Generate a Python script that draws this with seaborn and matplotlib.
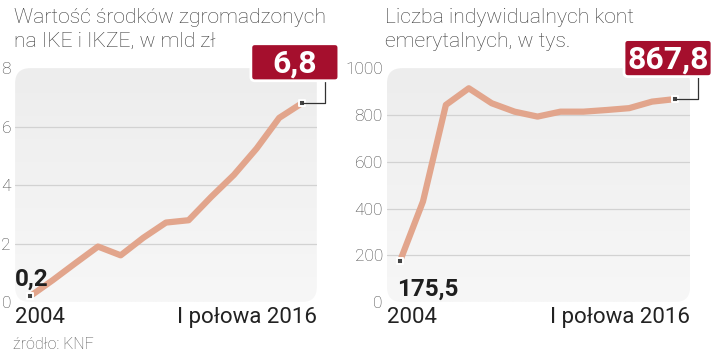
import numpy as np
import pandas as pd
import matplotlib
matplotlib.use("Agg")
import matplotlib.pyplot as plt
import seaborn as sns
from matplotlib.patches import FancyBboxPatch
from matplotlib.lines import Line2D
from matplotlib.transforms import IdentityTransform

# data
okres = list(range(13))  # 2004 ... I polowa 2016
aktywa_mld = [0.2, 0.75, 1.33, 1.9, 1.6, 2.2, 2.72, 2.8, 3.6, 4.35, 5.25, 6.3, 6.8]
konta_tys = [175.5, 430, 843, 914, 850, 814, 793, 814, 814, 821, 829, 857, 867.8]
tytul_lewy = ["Wartość środków zgromadzonych", "na IKE i IKZE, w mld zł"]
tytul_prawy = ["Liczba indywidualnych kont", "emerytalnych, w tys."]
etykieta_start = "2004"
etykieta_koniec = "I połowa 2016"
zrodlo = "źródło: KNF"

sns.set_theme(style="white")
plt.rcParams["font.family"] = ["Roboto", "DejaVu Sans"]

LINE = "#e2a58c"
RED = "#a50f2d"
GRID = "#d2d2d2"
TXT = "#3a3a3a"

fig = plt.figure(figsize=(7.2, 3.55), dpi=100)


def panel(rect, values, ymax, ystep, title, xlim):
    ax = fig.add_axes(rect)
    ax.patch.set_visible(False)
    # rounded grey background with a slight vertical fade
    bg = FancyBboxPatch((0, 0), 1, 1, boxstyle="round,pad=0,rounding_size=0.05",
                        transform=ax.transAxes, facecolor="none", edgecolor="none",
                        zorder=0, mutation_aspect=1.3)
    ax.add_patch(bg)
    grad = np.linspace(0, 1, 100).reshape(-1, 1)
    img = ax.imshow(grad, cmap=matplotlib.colors.LinearSegmentedColormap.from_list(
        "bg", ["#f7f7f7", "#ededed"]), extent=[0, 1, 1, 0], transform=ax.transAxes,
        aspect="auto", zorder=0, interpolation="bilinear")
    img.set_clip_path(bg)
    ax.set_xlim(*xlim)
    ax.set_ylim(0, ymax)
    for v in np.arange(ystep, ymax, ystep):
        ax.axhline(v, color=GRID, lw=0.9, zorder=1)
    df = pd.DataFrame({"x": okres, "y": values})
    sns.lineplot(data=df, x="x", y="y", ax=ax, color=LINE, lw=4.5,
                 solid_capstyle="butt", zorder=3)
    ends = df.iloc[[0, -1]]
    ax.scatter(ends["x"], ends["y"], marker="s", s=24, color="#444444",
               edgecolor="white", linewidth=1.4, zorder=5)
    for s in ax.spines.values():
        s.set_visible(False)
    ax.set_xticks([])
    ticks = np.arange(0, ymax + 1e-9, ystep)
    ax.set_yticks(ticks)
    ax.set_yticklabels([f"{t:g}" for t in ticks], fontsize=12.5,
                       color="#444444", fontweight="light")
    ax.tick_params(axis="y", length=0, pad=3)
    ax.set_xlabel("")
    ax.set_ylabel("")
    ax.text(0.0, -0.02, etykieta_start, transform=ax.transAxes, ha="left", va="top",
            fontsize=16, color="#222222")
    ax.text(1.0, -0.02, etykieta_koniec, transform=ax.transAxes, ha="right", va="top",
            fontsize=16, color="#222222")
    # two title lines as separate texts
    ax.text(-0.005, 1.195, title[0], transform=ax.transAxes, ha="left",
            va="baseline", fontsize=15.2, color=TXT, fontweight="light")
    ax.text(-0.005, 1.09, title[1], transform=ax.transAxes, ha="left",
            va="baseline", fontsize=15.2, color=TXT, fontweight="light")
    return ax


ax1 = panel([0.021, 0.149, 0.419, 0.659], aktywa_mld, 8, 2, tytul_lewy, (-0.66, 12.66))
ax2 = panel([0.5375, 0.149, 0.421, 0.659], konta_tys, 1000, 200, tytul_prawy, (-0.57, 12.66))


def fmt(v):
    return f"{v:.1f}".replace(".", ",")


# start values
ax1.annotate(fmt(aktywa_mld[0]), (okres[0], aktywa_mld[0]), xytext=(-11, 4),
             textcoords="offset points", fontsize=17.5, fontweight="bold",
             color="#1e1e1e", ha="left", va="bottom")
ax2.annotate(fmt(konta_tys[0]), (okres[0], konta_tys[0]), xytext=(-2, -12),
             textcoords="offset points", fontsize=17.5, fontweight="bold",
             color="#1e1e1e", ha="left", va="top")

# end value boxes (fixed size, placed relative to the last point)
ident = IdentityTransform()
for ax, vals in ((ax1, aktywa_mld), (ax2, konta_tys)):
    px, py = ax.transData.transform((okres[-1], vals[-1]))
    cx, cy = px - 7, py + 41
    w, h = 88, 37
    box = FancyBboxPatch((cx - w / 2, cy - h / 2), w, h,
                         boxstyle="round,pad=0,rounding_size=4",
                         transform=ident, facecolor=RED, edgecolor="white",
                         lw=2, zorder=6)
    fig.patches.append(box)
    fig.add_artist(Line2D([px, px + 23, px + 23], [py, py, cy - h / 2],
                          transform=ident, color="#333333", lw=0.9, zorder=4))
    fig.text(cx, cy - 1, fmt(vals[-1]), transform=ident, ha="center", va="center",
             fontsize=23, fontweight="bold", color="white", zorder=7)

fig.text(0.018, 0.008, zrodlo, fontsize=11.5, color="#555555", ha="left",
         va="bottom", fontweight="light")

fig.savefig("out.png", dpi=100)
